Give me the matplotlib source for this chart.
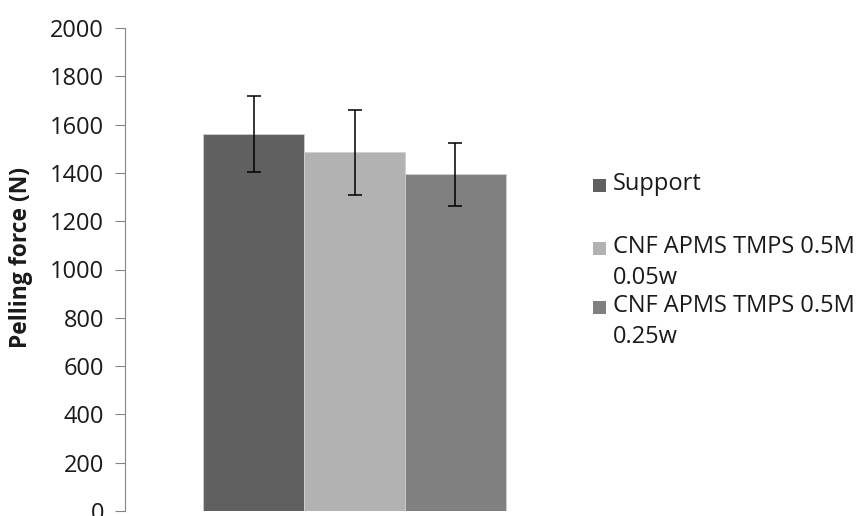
import matplotlib
matplotlib.use("Agg")
import matplotlib.pyplot as plt
from matplotlib.patches import Rectangle

# Data
series = ["Support", "CNF APMS TMPS 0.5M\n0.05w", "CNF APMS TMPS 0.5M\n0.25w"]
values = [1560, 1485, 1395]
errors = [158, 176, 130]
colors = ["#606060", "#b2b2b2", "#808080"]
y_ticks = [0, 200, 400, 600, 800, 1000, 1200, 1400, 1600, 1800, 2000]

plt.rcParams["font.family"] = ["Open Sans", "DejaVu Sans"]

W, H = 859, 516
fig = plt.figure(figsize=(W / 100, H / 100), dpi=100)
ax = fig.add_axes([125 / W, 1 - 511 / H, (584 - 125) / W, (511 - 28) / H])

bar_w = 0.22
offsets = [-bar_w, 0.0, bar_w]
for off, v, e, c in zip(offsets, values, errors, colors):
    ax.bar(off, v, width=bar_w, color=c, edgecolor="#d0d0d0", linewidth=0.6)
    ax.errorbar(off, v, yerr=e, fmt="none", ecolor="black",
                elinewidth=1.1, capsize=5, capthick=1.1)

ax.set_xlim(-0.5, 0.5)
ax.set_ylim(0, 2000)
ax.set_yticks(y_ticks)
ax.set_xticks([])
for s in ["top", "right", "bottom"]:
    ax.spines[s].set_visible(False)
ax.spines["left"].set_color("#868686")
ax.tick_params(axis="y", direction="out", length=7, color="#868686",
               labelsize=17, labelcolor="#1a1a1a", pad=8)
ax.set_ylabel("Pelling force (N)", fontsize=16.5, fontweight="bold",
              color="#1a1a1a")
ax.yaxis.set_label_coords(33 / W, 0.5, transform=fig.transFigure)

# Legend drawn by hand so the marker sits on the first text line
first_line_px = [185, 248, 307]
for lab, c, yc in zip(series, colors, first_line_px):
    fig.patches.append(Rectangle((593 / W, 1 - (yc + 7) / H), 13 / W, 13 / H,
                                 transform=fig.transFigure, facecolor=c,
                                 edgecolor="none"))
    fig.text(613 / W, 1 - (yc - 13) / H, lab, fontsize=17, va="top",
             ha="left", color="#1a1a1a", linespacing=1.38)

fig.savefig("out.png", dpi=100)
